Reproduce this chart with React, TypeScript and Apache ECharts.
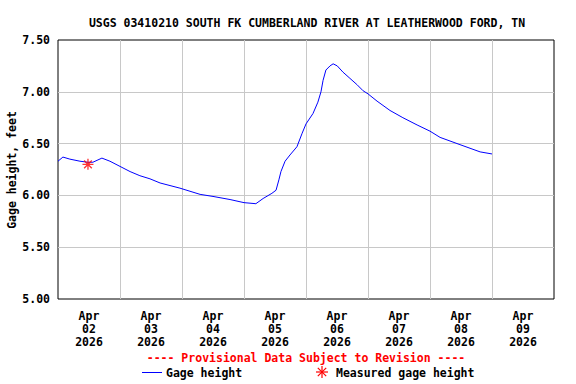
import React, { useEffect, useRef } from "react";
import * as echarts from "echarts";

const TITLE = "USGS 03410210 SOUTH FK CUMBERLAND RIVER AT LEATHERWOOD FORD, TN";
const Y_NAME = "Gage height, feet";
// hours since Apr 02 2026 00:00
const hours = [0, 1.9, 4.6, 8.5, 11.6, 13.5, 17.0, 20.1, 24, 27.9, 31.7, 35.6, 39.5, 47.2, 55.0, 60, 66.6, 72, 76.6, 79.4, 82.8, 84.4, 85.5, 86.3, 87.9, 89.8, 92.5, 94.5, 96, 98.7, 100.6, 101.8, 102.6, 103.7, 105.3, 106.5, 108.1, 110.3, 113.0, 115.7, 118.1, 120, 123.5, 128.5, 133.5, 139.0, 144, 147.9, 155.6, 163.4, 168];
const gage = [6.33, 6.37, 6.35, 6.33, 6.32, 6.32, 6.36, 6.33, 6.28, 6.23, 6.19, 6.16, 6.12, 6.07, 6.01, 5.99, 5.96, 5.93, 5.92, 5.97, 6.02, 6.05, 6.15, 6.23, 6.33, 6.39, 6.47, 6.60, 6.69, 6.79, 6.90, 7.00, 7.11, 7.21, 7.25, 7.27, 7.25, 7.19, 7.13, 7.07, 7.01, 6.98, 6.91, 6.82, 6.75, 6.68, 6.62, 6.56, 6.49, 6.42, 6.40];
const measuredHours = [11.6];
const measuredValues = [6.30];
const dayLabels = ["Apr\n02\n2026", "Apr\n03\n2026", "Apr\n04\n2026", "Apr\n05\n2026", "Apr\n06\n2026", "Apr\n07\n2026", "Apr\n08\n2026", "Apr\n09\n2026"];
const yTicks = [5.0, 5.5, 6.0, 6.5, 7.0, 7.5];

const FONT = "DejaVu Sans Mono";
const STAR = "path://M0,-6L0,6M-6,0L6,0M-4.2,-4.2L4.2,4.2M-4.2,4.2L4.2,-4.2";

export default function App() {
  const ref = useRef<HTMLDivElement>(null);
  useEffect(() => {
    if (!ref.current) return;
    const chart = echarts.init(ref.current, null, { renderer: "svg" });
    const lineData = hours.map((h, i) => [h, gage[i]]);
    const measData = measuredHours.map((h, i) => [h, measuredValues[i]]);
    chart.setOption({
      animation: false,
      backgroundColor: "#fff",
      textStyle: { fontFamily: FONT, fontWeight: "bold", color: "#000" },
      title: {
        text: TITLE,
        left: 302,
        top: 12,
        textAlign: "center",
        textStyle: { fontFamily: FONT, fontWeight: "bold", fontSize: 11.5, color: "#000" },
      },
      grid: { left: 58, top: 40, right: 22, bottom: 85, containLabel: false, outerBoundsMode: "none", show: true, borderColor: "#000", borderWidth: 1, backgroundColor: "transparent" },
      xAxis: [
        {
          type: "value",
          min: 0,
          max: 192,
          interval: 24,
          axisLine: { show: false },
          axisTick: { show: false },
          axisLabel: { show: false },
          splitLine: { show: true, showMinLine: false, showMaxLine: false, lineStyle: { color: "#c8c8c8", width: 1 } },
        },
        {
          type: "category",
          data: dayLabels,
          boundaryGap: true,
          position: "bottom",
          axisLine: { show: false },
          axisTick: { show: false },
          splitLine: { show: false },
          axisLabel: { fontFamily: FONT, fontWeight: "bold", fontSize: 11.5, color: "#000", lineHeight: 13, margin: 10 },
        },
      ],
      yAxis: {
        type: "value",
        min: yTicks[0],
        max: yTicks[yTicks.length - 1],
        interval: 0.5,
        axisLine: { show: false },
        axisTick: { show: false },
        axisLabel: { fontFamily: FONT, fontWeight: "bold", fontSize: 11.5, color: "#000", margin: 8, formatter: (v: number) => v.toFixed(2) },
        splitLine: { show: true, showMinLine: false, showMaxLine: false, lineStyle: { color: "#c8c8c8", width: 1 } },
      },
      series: [
        {
          type: "line",
          name: "Gage height",
          xAxisIndex: 0,
          data: lineData,
          showSymbol: false,
          lineStyle: { color: "#0000ff", width: 1 },
          z: 3,
        },
        {
          type: "scatter",
          name: "Measured gage height",
          xAxisIndex: 0,
          data: measData,
          symbol: STAR,
          symbolSize: 11,
          itemStyle: { color: "#ff0000", borderColor: "#ff0000", borderWidth: 1.3 },
          z: 4,
        },
      ],
      graphic: [
        {
          type: "text",
          x: 12,
          y: 170,
          rotation: Math.PI / 2,
          style: { text: Y_NAME, fill: "#000", font: `bold 11.5px "${FONT}"`, align: "center", verticalAlign: "middle" },
        },
        {
          type: "text",
          x: 306,
          y: 358,
          style: { text: "---- Provisional Data Subject to Revision ----", fill: "#ff0000", font: `bold 11.5px "${FONT}"`, align: "center", verticalAlign: "middle" },
        },
        { type: "line", shape: { x1: 142, y1: 372.5, x2: 162, y2: 372.5 }, style: { stroke: "#0000ff", lineWidth: 1 } },
        {
          type: "text",
          x: 166,
          y: 373,
          style: { text: "Gage height", fill: "#000", font: `bold 11.5px "${FONT}"`, align: "left", verticalAlign: "middle" },
        },
        {
          type: "group",
          x: 322,
          y: 372,
          children: [
            { type: "line", shape: { x1: 0, y1: -6, x2: 0, y2: 6 }, style: { stroke: "#ff0000", lineWidth: 1.2 } },
            { type: "line", shape: { x1: -6, y1: 0, x2: 6, y2: 0 }, style: { stroke: "#ff0000", lineWidth: 1.2 } },
            { type: "line", shape: { x1: -4.2, y1: -4.2, x2: 4.2, y2: 4.2 }, style: { stroke: "#ff0000", lineWidth: 1.2 } },
            { type: "line", shape: { x1: -4.2, y1: 4.2, x2: 4.2, y2: -4.2 }, style: { stroke: "#ff0000", lineWidth: 1.2 } },
          ],
        },
        {
          type: "text",
          x: 336,
          y: 373,
          style: { text: "Measured gage height", fill: "#000", font: `bold 11.5px "${FONT}"`, align: "left", verticalAlign: "middle" },
        },
      ],
    });
    return () => chart.dispose();
  }, []);
  return <div ref={ref} style={{ position: "fixed", left: 0, top: 0, width: 576, height: 384 }} />;
}
